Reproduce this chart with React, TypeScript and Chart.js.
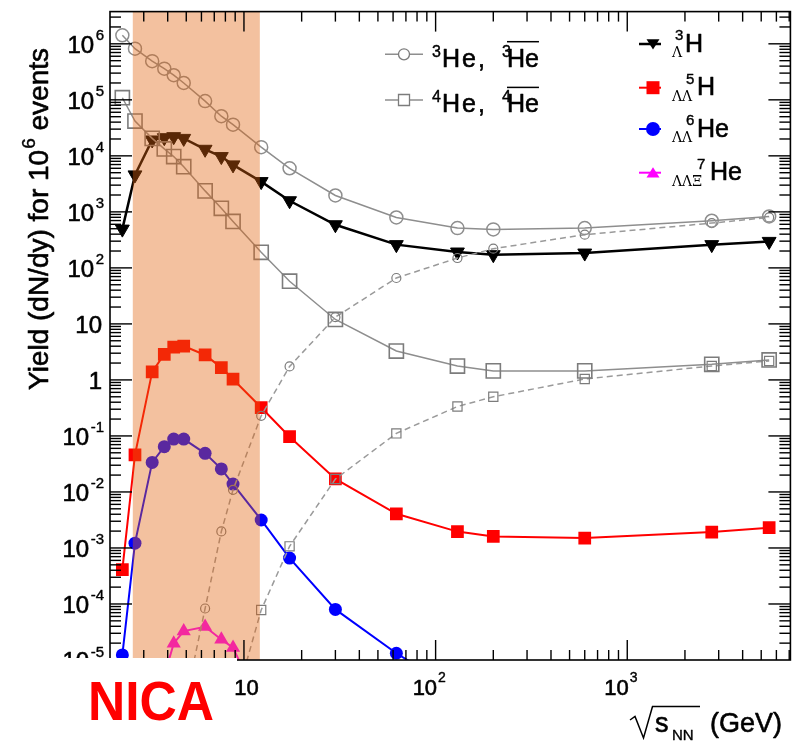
import React, { useEffect, useRef } from 'react';
import { Chart, registerables } from 'chart.js';

Chart.register(...registerables);

// ---- data (sqrt(s_NN) in GeV, yields per 10^6 events) ----
const energies = [2.32, 2.7, 3.32, 3.84, 4.3, 4.85, 6.27, 7.62, 8.77, 12.3, 17.3, 30, 62.4, 130, 200, 600, 2760, 5500];
const he3 = [1.42e6, 8.2e5, 4.9e5, 3.6e5, 2.75e5, 2.0e5, 9.5e4, 5.1e4, 3.6e4, 1.43e4, 6.0e3, 1.96e3, 795, 513, 486, 513, 695, 828];
const antiHe3 = [null, null, null, null, null, 1.3e-6, 8.3e-5, 1.97e-3, 1.09e-2, 0.229, 1.74, 13.2, 66, 150, 220, 392, 630, 795];
const he4 = [1.09e5, 4.18e4, 2.05e4, 1.33e4, 9.7e3, 6.4e3, 2.37e3, 1.16e3, 675, 190, 57.8, 12.0, 3.28, 1.77, 1.45, 1.45, 1.9, 2.27];
const antiHe4 = [null, null, null, null, null, null, null, null, 1.3e-6, 7.8e-5, 1.07e-3, 1.7e-2, 0.111, 0.335, 0.5, 1.04, 1.77, 2.18];
const hyperH3 = [492, 4.57e3, 1.92e4, 2.11e4, 2.2e4, 2.05e4, 1.31e4, 9.7e3, 6.9e3, 3.47e3, 1.58e3, 589, 260, 192, 172, 184, 260, 297];
const hyperH5 = [4.1e-4, 4.6e-2, 1.39, 2.87, 3.86, 4.03, 2.79, 1.66, 1.03, 0.321, 9.7e-2, 1.71e-2, 4.07e-3, 1.96e-3, 1.61e-3, 1.5e-3, 1.92e-3, 2.3e-3];
const hyperHe6 = [1.23e-5, 1.22e-3, 3.37e-2, 6.43e-2, 8.8e-2, 8.8e-2, 4.89e-2, 2.58e-2, 1.38e-2, 3.16e-3, 6.6e-4, 8.0e-5, 1.32e-5, 2.8e-6, null, null, null, null];
const hyperHe7 = [null, null, null, 5.2e-6, 1.98e-5, 3.28e-5, 3.92e-5, 2.33e-5, 1.66e-5, 1.4e-6, null, null, null, null, null, null, null, null];

const nicaBand = [2.63, 12.1];
const xRange = [2, 7100];
const yRange = [1e-5, 3.76e6];
const xTickValues = [10, 100, 1000];
const xTickExponents = [1, 2, 3];
const yTickExponents = [-5, -4, -3, -2, -1, 0, 1, 2, 3, 4, 5, 6];

const legendLeftSup = ['3', '4'];
const legendRightSup = ['3', '5', '6', '7'];
const legendRightSub = ['Λ', 'ΛΛ', 'ΛΛ', 'ΛΛΞ'];
const legendRightMain = ['H', 'H', 'He', 'He'];

const FONT = '"Liberation Sans", Arial, Helvetica, sans-serif';
const SERIF = '"DejaVu Serif", "Liberation Serif", serif';

const pts = (vals: (number | null)[]) =>
  energies.map((e, i) => ({ x: e, y: vals[i] })).filter((p) => p.y !== null) as { x: number; y: number }[];

const GRAY1 = '#8e8e8e';
const GRAY2 = '#7c7c7c';
const GRAY3 = '#9a9a9a';

const datasets: any[] = [
  {
    label: '3He', data: pts(he3), borderColor: GRAY1, borderWidth: 1.5,
    pointStyle: 'circle', pointRadius: 6.5, pointBorderWidth: 1.5,
    pointBorderColor: GRAY1, pointBackgroundColor: 'rgba(0,0,0,0)',
  },
  {
    label: 'anti-3He', data: pts(antiHe3), borderColor: GRAY3, borderWidth: 1.5, borderDash: [6, 4],
    pointStyle: 'circle', pointRadius: 4.5, pointBorderWidth: 1.2,
    pointBorderColor: GRAY2, pointBackgroundColor: 'rgba(0,0,0,0)',
  },
  {
    label: '4He', data: pts(he4), borderColor: GRAY1, borderWidth: 1.5,
    pointStyle: 'rect', pointRadius: 10, pointBorderWidth: 1.6,
    pointBorderColor: GRAY2, pointBackgroundColor: 'rgba(0,0,0,0)',
  },
  {
    label: 'anti-4He', data: pts(antiHe4), borderColor: GRAY3, borderWidth: 1.5, borderDash: [6, 4],
    pointStyle: 'rect', pointRadius: 6.5, pointBorderWidth: 1.2,
    pointBorderColor: GRAY2, pointBackgroundColor: 'rgba(0,0,0,0)',
  },
  {
    label: 'H3L', data: pts(hyperH3), borderColor: '#000', borderWidth: 2.5,
    pointStyle: 'triangle', pointRotation: 180, pointRadius: 8, pointBorderWidth: 1,
    pointBorderColor: '#000', pointBackgroundColor: '#000',
  },
  {
    label: 'H5LL', data: pts(hyperH5), borderColor: '#ff0000', borderWidth: 2,
    pointStyle: 'rect', pointRadius: 9, pointBorderWidth: 0,
    pointBorderColor: '#ff0000', pointBackgroundColor: '#ff0000',
  },
  {
    label: 'He6LL', data: pts(hyperHe6), borderColor: '#0000ff', borderWidth: 2,
    pointStyle: 'circle', pointRadius: 6.5, pointBorderWidth: 0,
    pointBorderColor: '#0000ff', pointBackgroundColor: '#0000ff',
  },
  {
    label: 'He7LLXi', data: pts(hyperHe7), borderColor: '#ff00ff', borderWidth: 2,
    pointStyle: 'triangle', pointRadius: 8.2, pointBorderWidth: 0,
    pointBorderColor: '#ff00ff', pointBackgroundColor: '#ff00ff',
  },
];

function seg(ctx: CanvasRenderingContext2D, x1: number, y1: number, x2: number, y2: number) {
  ctx.beginPath();
  ctx.moveTo(x1, y1);
  ctx.lineTo(x2, y2);
  ctx.stroke();
}

// text with a faint outline so it reads as heavy as the reference
function txt(ctx: CanvasRenderingContext2D, s: string, x: number, y: number, w = 0.6) {
  ctx.fillText(s, x, y);
  if (w > 0) {
    ctx.save();
    ctx.strokeStyle = ctx.fillStyle as string;
    ctx.lineWidth = w;
    ctx.lineJoin = 'round';
    ctx.strokeText(s, x, y);
    ctx.restore();
  }
}

function marker(ctx: CanvasRenderingContext2D, kind: string, x: number, y: number, s: number, color: string, filled: boolean) {
  ctx.beginPath();
  if (kind === 'circle') ctx.arc(x, y, s, 0, Math.PI * 2);
  else if (kind === 'rect') ctx.rect(x - s, y - s, 2 * s, 2 * s);
  else if (kind === 'tdown') {
    ctx.moveTo(x - s, y - s * 0.75);
    ctx.lineTo(x + s, y - s * 0.75);
    ctx.lineTo(x, y + s * 0.85);
    ctx.closePath();
  } else if (kind === 'tup') {
    ctx.moveTo(x - s, y + s * 0.75);
    ctx.lineTo(x + s, y + s * 0.75);
    ctx.lineTo(x, y - s * 0.85);
    ctx.closePath();
  }
  if (filled) {
    ctx.fillStyle = color;
    ctx.fill();
  } else {
    ctx.fillStyle = '#fff';
    ctx.fill();
    ctx.strokeStyle = color;
    ctx.lineWidth = 1.3;
    ctx.stroke();
  }
}

const overlayPlugin = {
  id: 'rootStyle',
  afterDraw(chart: any) {
    const ctx: CanvasRenderingContext2D = chart.ctx;
    const xs = chart.scales.x;
    const ys = chart.scales.y;
    const { left, right, top, bottom } = chart.chartArea;
    ctx.save();

    // NICA energy band (semi-transparent, over the curves)
    const b0 = xs.getPixelForValue(nicaBand[0]);
    const b1 = xs.getPixelForValue(nicaBand[1]);
    ctx.fillStyle = 'rgba(225,100,15,0.4)';
    ctx.fillRect(b0, top, b1 - b0, bottom - top);

    // frame
    ctx.strokeStyle = '#000';
    ctx.lineWidth = 1.6;
    ctx.strokeRect(left, top, right - left, bottom - top);

    // x ticks (bottom + top)
    ctx.lineWidth = 1.4;
    for (let d = 0; d <= 3; d++) {
      for (let m = 1; m <= 9; m++) {
        const v = m * Math.pow(10, d);
        if (v <= xRange[0] || v >= xRange[1]) continue;
        const px = xs.getPixelForValue(v);
        const len = m === 1 ? 20 : 10;
        seg(ctx, px, bottom, px, bottom - len);
        seg(ctx, px, top, px, top + len);
      }
    }
    // y ticks (left + right)
    for (let e = -5; e <= 6; e++) {
      for (let m = 1; m <= 9; m++) {
        const v = m * Math.pow(10, e);
        if (v <= yRange[0] * 1.0001 || v >= yRange[1]) continue;
        const py = ys.getPixelForValue(v);
        const len = m === 1 ? 22 : 11;
        seg(ctx, left, py, left + len, py);
        seg(ctx, right, py, right - len, py);
      }
    }

    // y tick labels
    ctx.fillStyle = '#000';
    ctx.textBaseline = 'alphabetic';
    for (const e of yTickExponents) {
      const py = ys.getPixelForValue(Math.pow(10, e));
      if (e === 0 || e === 1) {
        ctx.font = `24px ${FONT}`;
        ctx.textAlign = 'right';
        txt(ctx, e === 0 ? '1' : '10', 102, py + 9);
      } else {
        const sup = String(e);
        ctx.font = `15px ${FONT}`;
        const sw = ctx.measureText(sup).width;
        ctx.textAlign = 'left';
        txt(ctx, sup, 104 - sw, py - 3.5, 0.4);
        ctx.font = `24px ${FONT}`;
        ctx.textAlign = 'right';
        txt(ctx, '10', 104 - sw - 1.5, py + 9);
      }
    }

    // white box behind the NICA label
    ctx.fillStyle = '#fff';
    ctx.fillRect(0, 658, 237, 741 - 658);

    // x tick labels
    ctx.fillStyle = '#000';
    xTickValues.forEach((v, i) => {
      const px = xs.getPixelForValue(v);
      const e = xTickExponents[i];
      ctx.font = `22px ${FONT}`;
      if (e === 1) {
        ctx.textAlign = 'center';
        txt(ctx, '10', px + 2.5, 695);
      } else {
        ctx.textAlign = 'right';
        txt(ctx, '10', px + 1.5, 695);
        ctx.font = `14px ${FONT}`;
        ctx.textAlign = 'left';
        txt(ctx, String(e), px + 2.5, 682, 0.4);
      }
    });

    // NICA label
    ctx.save();
    ctx.fillStyle = '#ff0000';
    ctx.font = `bold 55px ${FONT}`;
    ctx.textAlign = 'left';
    const nw = ctx.measureText('NICA').width;
    ctx.translate(88, 720);
    ctx.scale(126 / nw, 1);
    ctx.fillText('NICA', 0, 0);
    ctx.restore();

    // x-axis title: sqrt(s_NN) (GeV)
    ctx.strokeStyle = '#000';
    ctx.lineWidth = 1.5;
    ctx.beginPath();
    ctx.moveTo(630, 720);
    ctx.lineTo(635, 716.5);
    ctx.lineTo(643.5, 738);
    ctx.lineTo(652.5, 706.5);
    ctx.lineTo(700, 706.5);
    ctx.stroke();
    ctx.fillStyle = '#000';
    ctx.textAlign = 'left';
    ctx.font = `27px ${FONT}`;
    txt(ctx, 's', 655, 732);
    ctx.font = `15px ${FONT}`;
    txt(ctx, 'NN', 672, 740, 0.4);
    ctx.font = `27px ${FONT}`;
    txt(ctx, '(GeV)', 710, 732);

    // y-axis title (rotated)
    ctx.save();
    ctx.translate(48, 390);
    ctx.rotate(-Math.PI / 2);
    ctx.textAlign = 'left';
    ctx.font = `28px ${FONT}`;
    let tx = 0;
    const p1 = 'Yield (dN/dy) for 10';
    txt(ctx, p1, tx, 0);
    tx += ctx.measureText(p1).width + 1;
    ctx.font = `19px ${FONT}`;
    txt(ctx, '6', tx, -13, 0.4);
    tx += ctx.measureText('6').width;
    ctx.font = `28px ${FONT}`;
    txt(ctx, ' events', tx, 0);
    ctx.restore();

    // ---- legend, left group ----
    const leftY = [54.3, 100];
    const leftKinds = ['circle', 'rect'];
    leftY.forEach((y, i) => {
      ctx.strokeStyle = GRAY1;
      ctx.lineWidth = 1.5;
      seg(ctx, 385, y, 423, y);
      marker(ctx, leftKinds[i], 404, y, 5.5, GRAY2, false);
      const base = y + 12.4;
      ctx.fillStyle = '#000';
      ctx.textAlign = 'left';
      ctx.font = `16px ${FONT}`;
      txt(ctx, legendLeftSup[i], 432, base - 10, 0.4);
      ctx.font = `25px ${FONT}`;
      (ctx as any).letterSpacing = '2px';
      txt(ctx, 'He,', 442, base);
      (ctx as any).letterSpacing = '0px';
      ctx.font = `16px ${FONT}`;
      txt(ctx, legendLeftSup[i], 502, base - 10, 0.4);
      ctx.font = `25px ${FONT}`;
      txt(ctx, 'He', 507, base);
      const hw = ctx.measureText('He').width;
      ctx.strokeStyle = '#000';
      ctx.lineWidth = 1.5;
      seg(ctx, 507, base - 25, 507 + hw, base - 25);
    });

    // ---- legend, right group ----
    const rightY = [44, 87.7, 129, 172.7];
    const rightColors = ['#000', '#ff0000', '#0000ff', '#ff00ff'];
    const rightKinds = ['tdown', 'rect', 'circle', 'tup'];
    const supX = [675, 686, 686, 697];
    const mainX = [685, 697, 697, 710];
    rightY.forEach((y, i) => {
      ctx.strokeStyle = rightColors[i];
      ctx.lineWidth = i === 0 ? 2.5 : 2;
      seg(ctx, 639, y, 661, y);
      marker(ctx, rightKinds[i], 653, y, i === 2 ? 7 : 6.5, rightColors[i], true);
      const base = y + 7.5;
      ctx.fillStyle = '#000';
      ctx.textAlign = 'left';
      ctx.font = `14px ${SERIF}`;
      ctx.fillText(legendRightSub[i], 672, base + 5.5);
      ctx.font = `15px ${FONT}`;
      txt(ctx, legendRightSup[i], supX[i], base - 11.5, 0.4);
      ctx.font = `25px ${FONT}`;
      txt(ctx, legendRightMain[i], mainX[i], base);
    });

    ctx.restore();
  },
};

export default function App() {
  const ref = useRef<HTMLCanvasElement>(null);
  useEffect(() => {
    document.body.style.margin = '0';
    const chart = new Chart(ref.current as HTMLCanvasElement, {
      type: 'line',
      data: { datasets },
      options: {
        animation: false,
        responsive: false,
        devicePixelRatio: 1,
        layout: { padding: { left: 110, right: 7, top: 9.5, bottom: 81 } },
        elements: { line: { tension: 0 } },
        scales: {
          x: { type: 'logarithmic', min: xRange[0], max: xRange[1], display: false },
          y: { type: 'logarithmic', min: yRange[0], max: yRange[1], display: false },
        },
        plugins: { legend: { display: false }, tooltip: { enabled: false } },
      } as any,
      plugins: [overlayPlugin],
    });
    return () => chart.destroy();
  }, []);
  return <canvas ref={ref} width={802} height={741} style={{ display: 'block' }} />;
}
